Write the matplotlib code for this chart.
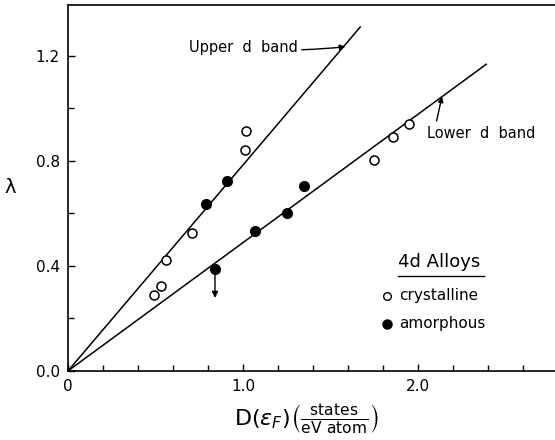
import matplotlib
matplotlib.use("Agg")
import matplotlib.pyplot as plt
from matplotlib.ticker import MultipleLocator

plt.rcParams['font.family'] = ['DejaVu Sans']
plt.rcParams['mathtext.fontset'] = 'dejavusans'

# data
cryst_x = [1.02, 1.01, 0.71, 0.56, 0.53, 0.49, 1.75, 1.855, 1.95]
cryst_y = [0.915, 0.842, 0.526, 0.422, 0.325, 0.290, 0.803, 0.890, 0.941]
amorph_x = [0.91, 0.79, 1.07, 1.25, 1.35, 0.84]
amorph_y = [0.725, 0.635, 0.532, 0.601, 0.705, 0.389]

# upper limit point (arrow down)
limit_x = 0.84
limit_y = [0.389, 0.278]

# fitted lines through origin
upper_x = [0.0, 1.67]
upper_y = [0.0, 1.31]
lower_x = [0.0, 2.39]
lower_y = [0.0, 1.168]

fig = plt.figure(figsize=(5.55, 4.4), dpi=100)
ax = fig.add_axes([0.1225, 0.157, 0.8775, 0.8318])

ax.plot(upper_x, upper_y, color='black', lw=1.1)
ax.plot(lower_x, lower_y, color='black', lw=1.1)

ax.plot(cryst_x, cryst_y, 'o', mfc='white', mec='black', mew=1.1, ms=6.5)
ax.plot(amorph_x, amorph_y, 'o', color='black', ms=7)

ax.annotate('', xy=(limit_x, limit_y[1]), xytext=(limit_x, limit_y[0] - 0.01),
            arrowprops=dict(arrowstyle='-|>', color='black', lw=1.0,
                            mutation_scale=9, shrinkA=0, shrinkB=0))

# band labels
ax.annotate('Upper  d  band', xy=(1.585, 1.235), xytext=(0.69, 1.23),
            fontsize=10.5, va='center',
            arrowprops=dict(arrowstyle='-|>', color='black', lw=1.0,
                            mutation_scale=8, shrinkA=1, shrinkB=0,
                            connectionstyle='arc3,rad=0.05'))
ax.annotate('Lower  d  band', xy=(2.137, 1.045), xytext=(2.05, 0.903),
            fontsize=10.5, va='center', ha='left',
            arrowprops=dict(arrowstyle='-|>', color='black', lw=1.0,
                            mutation_scale=8, shrinkA=2, shrinkB=0,
                            relpos=(0.08, 1.0)))

# legend box drawn as text
ax.text(1.885, 0.415, '4d Alloys', fontsize=13, va='center', ha='left')
ax.plot([1.885, 2.375], [0.36, 0.36], color='black', lw=1.0)
ax.plot([1.823], [0.286], 'o', mfc='white', mec='black', mew=1.0, ms=5.5)
ax.text(1.895, 0.286, 'crystalline', fontsize=11, va='center')
ax.plot([1.823], [0.179], 'o', color='black', ms=6.5)
ax.text(1.895, 0.179, 'amorphous', fontsize=11, va='center')

ax.set_xlim(0, 2.783)
ax.set_ylim(0, 1.394)
ax.xaxis.set_major_locator(MultipleLocator(1.0))
ax.xaxis.set_minor_locator(MultipleLocator(0.2))
ax.yaxis.set_major_locator(MultipleLocator(0.4))
ax.yaxis.set_minor_locator(MultipleLocator(0.2))
ax.set_xticks([0, 1.0, 2.0])
ax.set_xticklabels(['0', '1.0', '2.0'])
ax.set_yticks([0.0, 0.4, 0.8, 1.2])
ax.set_yticklabels(['0.0', '0.4', '0.8', '1.2'])
ax.tick_params(which='both', direction='in', labelsize=11, width=1.0)
ax.tick_params(which='major', length=5, pad=6)
ax.tick_params(which='minor', length=4)
ax.tick_params(axis='y', which='both', right=False)

ax.spines['right'].set_visible(False)
for s in ['left', 'top', 'bottom']:
    ax.spines[s].set_linewidth(1.2)

ax.set_ylabel('λ', fontsize=14, rotation=0, labelpad=18, va='center')
ax.set_xlabel(r'$\mathrm{D}(\epsilon_F)\left(\frac{\mathrm{states}}{\mathrm{eV\ atom}}\right)$',
              fontsize=16, va='center')
ax.xaxis.set_label_coords(0.49, -0.134)

fig.savefig('out.png', dpi=100)
